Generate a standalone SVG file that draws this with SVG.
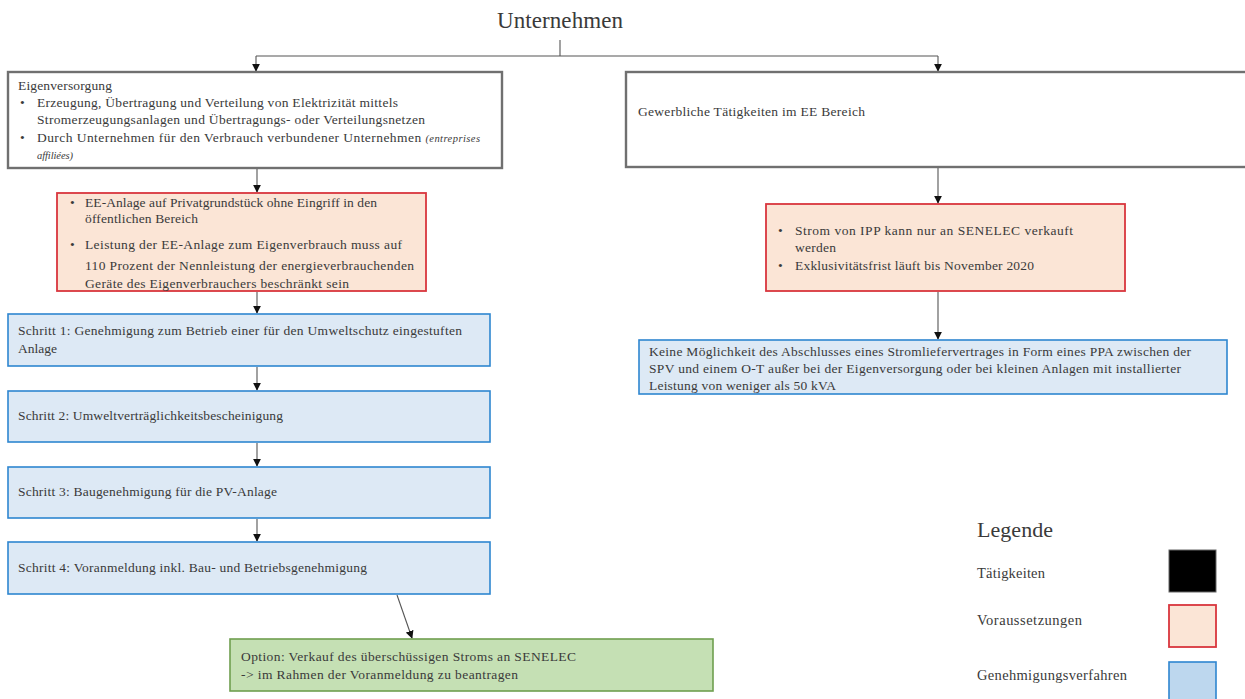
<svg xmlns="http://www.w3.org/2000/svg" width="1245" height="699" viewBox="0 0 1245 699">
<style>
text{font-family:"Liberation Serif","DejaVu Serif",serif;fill:#3a3a3a;font-size:13.5px}
.act{fill:#fff;stroke:#707070;stroke-width:2.4}
.req{fill:#fbe5d6;stroke:#d9363e;stroke-width:1.8}
.proc{fill:#dde9f5;stroke:#2e86d0;stroke-width:1.6}
.opt{fill:#c5e0b4;stroke:#6f9f4f;stroke-width:1.6}
.con{stroke:#555;stroke-width:1.1;fill:none}
.big{font-size:23px}
.leg{font-size:14.5px}
.legt{font-size:22px}
.it{font-style:italic;font-size:10.5px}
</style>
<defs>
<marker id="ah" viewBox="0 0 10 10" refX="9" refY="5" markerWidth="8" markerHeight="8" orient="auto" markerUnits="userSpaceOnUse">
<path d="M0,0 L10,5 L0,10 z" fill="#111"/>
</marker>
</defs>
<g id="title"><text class="big" x="497" y="28" textLength="126">Unternehmen</text></g>
<g id="connectors">
<path class="con" d="M560,40 V56"/>
<path class="con" d="M256,56 H938"/>
<path class="con" d="M256,56 V71" marker-end="url(#ah)"/>
<path class="con" d="M938,56 V71" marker-end="url(#ah)"/>
<path class="con" d="M257,169 V192" marker-end="url(#ah)"/>
<path class="con" d="M257,292 V313" marker-end="url(#ah)"/>
<path class="con" d="M257,367 V390" marker-end="url(#ah)"/>
<path class="con" d="M257,443 V466" marker-end="url(#ah)"/>
<path class="con" d="M257,519 V541" marker-end="url(#ah)"/>
<path class="con" d="M397,595 L412,638" marker-end="url(#ah)"/>
<path class="con" d="M938,168 V203" marker-end="url(#ah)"/>
<path class="con" d="M938,292 V339" marker-end="url(#ah)"/>
</g>
<g id="eigenversorgung">
<rect class="act" x="8" y="72" width="494" height="96"/>
<text x="18" y="90" textLength="94">Eigenversorgung</text>
<text x="20" y="107">•</text>
<text x="37" y="107" textLength="361">Erzeugung, Übertragung und Verteilung von Elektrizität mittels</text>
<text x="37" y="124" textLength="388">Stromerzeugungsanlagen und Übertragungs- oder Verteilungsnetzen</text>
<text x="20" y="142">•</text>
<text x="37" y="142" textLength="443">Durch Unternehmen  für den Verbrauch verbundener Unternehmen <tspan class="it">(entreprises</tspan></text>
<text x="37" y="159" class="it" textLength="36">affiliées)</text>
</g>
<g id="gewerblich">
<rect class="act" x="626" y="72" width="630" height="95"/>
<text x="638" y="116" textLength="227">Gewerbliche Tätigkeiten im EE Bereich</text>
</g>
<g id="vor-eigen">
<rect class="req" x="57" y="193" width="369" height="98"/>
<text x="70" y="207">•</text>
<text x="85" y="207" textLength="292">EE-Anlage auf Privatgrundstück ohne Eingriff in den</text>
<text x="85" y="223" textLength="113">öffentlichen Bereich</text>
<text x="70" y="249">•</text>
<text x="85" y="249" textLength="317">Leistung der EE-Anlage zum  Eigenverbrauch muss auf</text>
<text x="85" y="270" textLength="329">110 Prozent der Nennleistung der energieverbrauchenden</text>
<text x="85" y="288" textLength="264">Geräte des Eigenverbrauchers beschränkt sein</text>
</g>
<g id="vor-gewerbe">
<rect class="req" x="766" y="204" width="359" height="87"/>
<text x="778" y="235">•</text>
<text x="795" y="235" textLength="278">Strom von IPP kann nur an SENELEC verkauft</text>
<text x="795" y="252" textLength="41">werden</text>
<text x="778" y="270">•</text>
<text x="795" y="270" textLength="239">Exklusivitätsfrist läuft bis November 2020</text>
</g>
<g id="keine-ppa">
<rect class="proc" x="639" y="340" width="588" height="54"/>
<text x="649" y="356" textLength="542">Keine Möglichkeit des Abschlusses eines Stromliefervertrages in Form eines PPA zwischen der</text>
<text x="649" y="373" textLength="532">SPV und einem O-T außer bei der Eigenversorgung oder bei kleinen Anlagen mit installierter</text>
<text x="649" y="390" textLength="187">Leistung von weniger als 50 kVA</text>
</g>
<g id="schritt1">
<rect class="proc" x="8" y="314" width="482" height="52"/>
<text x="18" y="335" textLength="444">Schritt 1: Genehmigung zum Betrieb einer für den Umweltschutz eingestuften</text>
<text x="18" y="353" textLength="39">Anlage</text>
</g>
<g id="schritt2">
<rect class="proc" x="8" y="391" width="482" height="51"/>
<text x="18" y="420" textLength="265">Schritt 2: Umweltverträglichkeitsbescheinigung</text>
</g>
<g id="schritt3">
<rect class="proc" x="8" y="467" width="482" height="51"/>
<text x="18" y="496" textLength="259">Schritt 3: Baugenehmigung  für die PV-Anlage</text>
</g>
<g id="schritt4">
<rect class="proc" x="8" y="542" width="482" height="52"/>
<text x="18" y="572" textLength="349">Schritt 4: Voranmeldung inkl. Bau- und Betriebsgenehmigung</text>
</g>
<g id="option">
<rect class="opt" x="230" y="639" width="483" height="52"/>
<text x="241" y="661" textLength="335">Option: Verkauf des überschüssigen Stroms an SENELEC</text>
<text x="241" y="679" textLength="277">-&gt; im Rahmen der Voranmeldung zu beantragen</text>
</g>
<g id="legende">
<text class="legt" x="977" y="537" textLength="76">Legende</text>
<text class="leg" x="977" y="578" textLength="68">Tätigkeiten</text>
<rect x="1169" y="550" width="47" height="42" fill="#000" stroke="#666" stroke-width="1"/>
<text class="leg" x="977" y="625" textLength="105">Voraussetzungen</text>
<rect x="1169" y="605" width="47" height="42" fill="#fbe5d6" stroke="#d9363e" stroke-width="1.8"/>
<text class="leg" x="977" y="680" textLength="150">Genehmigungsverfahren</text>
<rect x="1169" y="662" width="47" height="45" fill="#bdd7ee" stroke="#2e86d0" stroke-width="1.6"/>
</g>
</svg>
